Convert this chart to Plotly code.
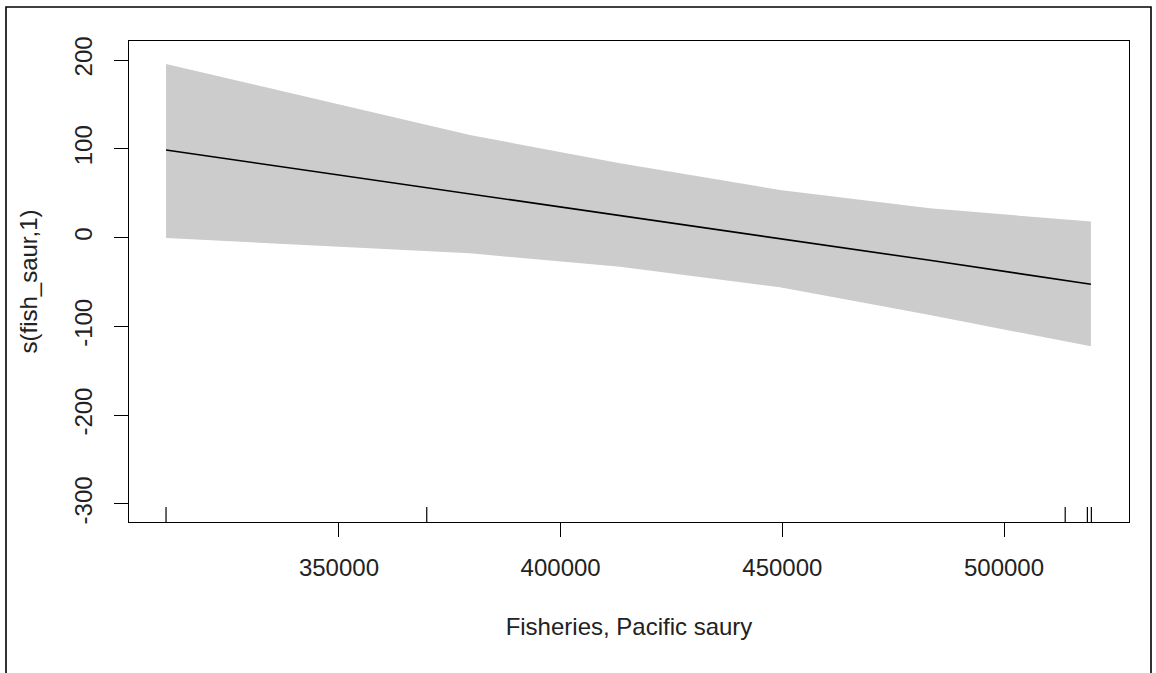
import plotly.graph_objects as go

# Data (mgcv-style smooth plot)
fish_saur = [311000, 343460, 379540, 413370, 449450, 483270, 519600]
fit_vals = [98.6, 75.2, 49.1, 25.0, -0.8, -25.6, -52.5]
upper_ci = [195.5, 157.5, 115.5, 83.7, 53.6, 33.0, 18.0]
lower_ci = [-0.5, -8.3, -17.7, -32.8, -56.0, -87.2, -122.5]
rug_x = [311000, 369800, 513800, 518800, 519700]

x_ticks = [350000, 400000, 450000, 500000]
x_tick_labels = ["350000", "400000", "450000", "500000"]
y_ticks = [-300, -200, -100, 0, 100, 200]
y_tick_labels = ["-300", "-200", "-100", "0", "100", "200"]

FONT = "Liberation Sans, Arial, sans-serif"
TXT = "#222222"

fig = go.Figure()
fig.add_trace(go.Scatter(
    x=fish_saur + fish_saur[::-1],
    y=upper_ci + lower_ci[::-1],
    fill="toself", fillcolor="#cccccc",
    mode="lines", line=dict(width=0, color="#cccccc"),
    hoverinfo="skip", showlegend=False,
))
fig.add_trace(go.Scatter(
    x=fish_saur, y=fit_vals, mode="lines",
    line=dict(color="black", width=1.6), showlegend=False,
))

shapes = []
for rx in rug_x:
    shapes.append(dict(type="line", xref="x", yref="paper",
                       x0=rx, x1=rx, y0=0, y1=0.031,
                       line=dict(color="black", width=1.2)))
# outer figure frame
shapes.append(dict(type="path", xref="paper", yref="paper",
                   path="M -0.123,-0.35 L -0.123,1.0707 L 1.022,1.0707 L 1.022,-0.35",
                   line=dict(color="black", width=1.6)))

axis_common = dict(
    showgrid=False, zeroline=False, showline=True, linecolor="black",
    linewidth=1.2, mirror=True, ticks="outside", ticklen=14, tickwidth=1.2,
    tickcolor="black",
    tickfont=dict(family=FONT, size=24, color=TXT),
)

fig.update_layout(
    width=1156, height=673,
    margin=dict(l=129, r=27, t=41, b=151),
    paper_bgcolor="white", plot_bgcolor="white",
    font=dict(family=FONT, size=24, color=TXT),
    shapes=shapes,
    xaxis=dict(
        range=[302645, 528190], tickvals=x_ticks, ticktext=x_tick_labels,
        ticklabelstandoff=10,
        title=dict(text="Fisheries, Pacific saury", font=dict(family=FONT, size=24, color=TXT), standoff=38),
        **axis_common,
    ),
    yaxis=dict(
        range=[-320.3, 221.4], tickvals=y_ticks, ticktext=y_tick_labels,
        tickangle=-90, ticklabelstandoff=12,
        title=dict(text="s(fish_saur,1)", font=dict(family=FONT, size=24, color=TXT), standoff=25),
        **axis_common,
    ),
)

fig.write_html("out.html")
